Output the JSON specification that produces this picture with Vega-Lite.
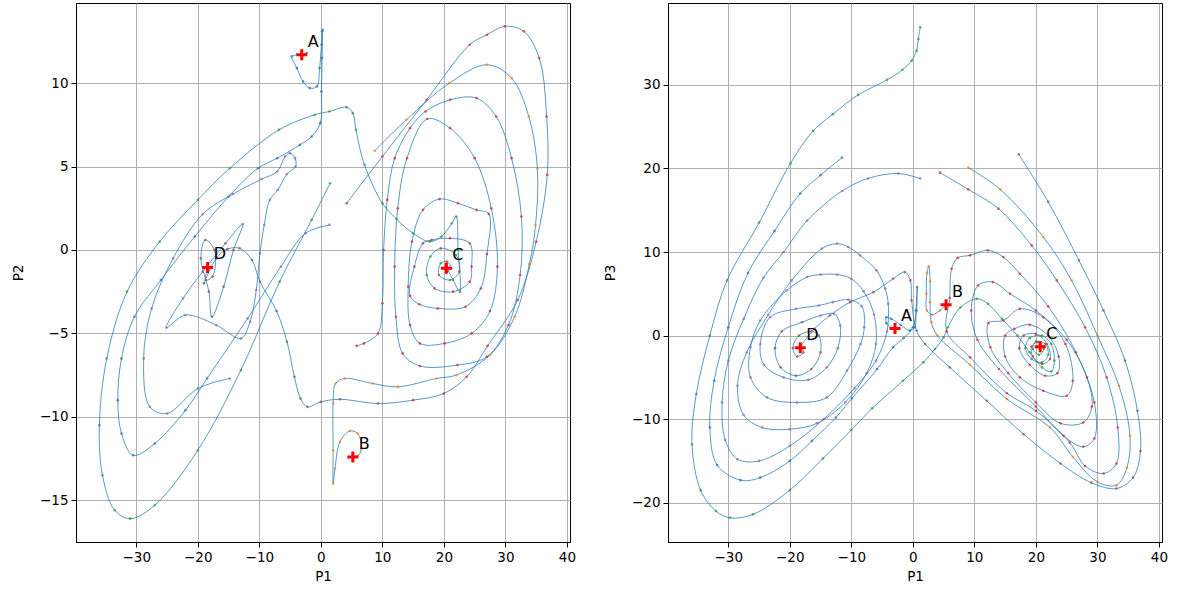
{
 "$schema": "https://vega.github.io/schema/vega-lite/v6.json",
 "padding": {"left": 11, "top": 2, "right": 5, "bottom": 5},
 "config": {
  "font": "DejaVu Sans",
  "view": {"stroke": "black", "strokeWidth": 1},
  "axis": {"grid": true, "gridColor": "#b0b0b0", "gridWidth": 1, "gridOpacity": 1, "domainColor": "black", "tickColor": "black", "tickSize": 5, "labelFontSize": 13.5, "labelColor": "black", "labelPadding": 3, "titleFontSize": 13.5, "titleFontWeight": "normal", "titleColor": "black", "labelFlush": false, "labelOverlap": false},
  "axisX": {"titlePadding": 6},
  "concat": {"spacing": 26}
 },
 "datasets": {
  "L": [
   {"t":"a","c":"b","x":-2.3,"y":11.8},{"t":"a","c":"b","x":-3.1,"y":11.7},{"t":"a","c":"b","x":-4.7,"y":11.6},{"t":"a","c":"b","x":-3.9,"y":10.9},{"t":"a","c":"b","x":-2.9,"y":10.1},{"t":"a","c":"b","x":-1.8,"y":9.7},{"t":"a","c":"b","x":-0.65,"y":9.8},{"t":"a","c":"b","x":-0.2,"y":10.9},{"t":"a","c":"b","x":0.1,"y":12.3},{"t":"a","c":"b","x":0.2,"y":13.1},
   {"t":"v","c":"b","x":0.3,"y":13.2},{"t":"v","c":"b","x":0.2,"y":11.5},{"t":"v","c":"b","x":0.1,"y":9.5},{"t":"v","c":"b","x":-0.1,"y":7.6},{"t":"v","c":"b","x":-1.5,"y":6.8},{"t":"v","c":"b","x":-3.4,"y":6.3},{"t":"v","c":"b","x":-7.1,"y":5.5},{"t":"v","c":"b","x":-10.2,"y":4.9},{"t":"v","c":"b","x":-15,"y":3.2},{"t":"v","c":"b","x":-20.5,"y":0.8},{"t":"v","c":"b","x":-26,"y":-1.8},{"t":"v","c":"b","x":-30.3,"y":-4},{"t":"v","c":"b","x":-32.4,"y":-6.5},{"t":"v","c":"b","x":-33,"y":-9},{"t":"v","c":"b","x":-32.4,"y":-11},{"t":"v","c":"b","x":-30.5,"y":-12.3},{"t":"v","c":"b","x":-27,"y":-11.6},{"t":"v","c":"b","x":-22,"y":-9.6},{"t":"v","c":"b","x":-18.5,"y":-7.7},{"t":"v","c":"p","x":-11.9,"y":-4.1},{"t":"v","c":"p","x":-6.5,"y":-1},{"t":"v","c":"p","x":-2.5,"y":1},{"t":"v","c":"p","x":1.4,"y":1.5},
   {"t":"g","c":"g","x":1.5,"y":4.0},{"t":"g","c":"g","x":-1.5,"y":1.8},{"t":"g","c":"g","x":-6.7,"y":-1.9},{"t":"g","c":"g","x":-13,"y":-7.2},{"t":"g","c":"g","x":-20,"y":-12},{"t":"g","c":"g","x":-27,"y":-15.3},{"t":"g","c":"g","x":-31,"y":-16.1},{"t":"g","c":"g","x":-33.5,"y":-15.6},{"t":"g","c":"g","x":-35.5,"y":-13.5},{"t":"g","c":"g","x":-36,"y":-10.5},{"t":"g","c":"g","x":-34.8,"y":-6.5},{"t":"g","c":"g","x":-31.5,"y":-2.5},{"t":"g","c":"g","x":-26.2,"y":0.5},{"t":"g","c":"g","x":-20,"y":3},{"t":"g","c":"g","x":-14.8,"y":4.9},{"t":"g","c":"g","x":-6.8,"y":7.2},{"t":"g","c":"g","x":-1,"y":8.1},{"t":"g","c":"g","x":1.4,"y":8.3},{"t":"g","c":"g","x":4.2,"y":8.55},{"t":"g","c":"g","x":5.2,"y":8.2},{"t":"g","c":"g","x":5.7,"y":7.2},{"t":"g","c":"g","x":7.1,"y":5.1},{"t":"g","c":"g","x":10,"y":2.8},{"t":"g","c":"g","x":12.3,"y":1.85},{"t":"g","c":"g","x":15,"y":1.0},{"t":"g","c":"g","x":17.7,"y":0.5},{"t":"g","c":"g","x":19.6,"y":0.8},{"t":"g","c":"g","x":21.3,"y":1.6},{"t":"g","c":"g","x":22,"y":2.0},{"t":"g","c":"g","x":22.3,"y":0},{"t":"g","c":"g","x":22.6,"y":-2.5},{"t":"g","c":"g","x":21.5,"y":-1.8},{"t":"g","c":"g","x":20.5,"y":-1.1},
   {"t":"p","c":"p","x":-14.8,"y":-7.7},{"t":"p","c":"p","x":-20,"y":-8.3},{"t":"p","c":"p","x":-25,"y":-9.8},{"t":"p","c":"p","x":-27.8,"y":-9.4},{"t":"p","c":"p","x":-28.8,"y":-6.5},{"t":"p","c":"p","x":-27.5,"y":-3.5},{"t":"p","c":"p","x":-24,"y":-0.5},{"t":"p","c":"p","x":-19.2,"y":2.15},{"t":"p","c":"p","x":-14.3,"y":3.35},{"t":"p","c":"p","x":-9.6,"y":4.25},{"t":"p","c":"p","x":-7.1,"y":4.7},{"t":"p","c":"p","x":-5.8,"y":5.6},{"t":"p","c":"p","x":-5,"y":5.8},{"t":"p","c":"p","x":-4.2,"y":5.5},{"t":"p","c":"p","x":-4.1,"y":5},{"t":"p","c":"p","x":-5.5,"y":4.55},{"t":"p","c":"p","x":-7,"y":3.6},{"t":"p","c":"p","x":-8.3,"y":3.0},{"t":"p","c":"p","x":-9.2,"y":1.5},{"t":"p","c":"p","x":-9.9,"y":-0.2},{"t":"p","c":"p","x":-10.5,"y":-2.4},{"t":"p","c":"p","x":-11.5,"y":-4.3},{"t":"p","c":"p","x":-13,"y":-5.3},{"t":"p","c":"p","x":-17,"y":-4.5},{"t":"p","c":"p","x":-22,"y":-3.9},{"t":"p","c":"p","x":-25.1,"y":-4.66},{"t":"p","c":"p","x":-22.4,"y":-2.9},{"t":"p","c":"n","x":-19.2,"y":-1.3},{"t":"p","c":"n","x":-15.5,"y":0.4},{"t":"p","c":"p","x":-12.7,"y":1.55},{"t":"p","c":"n","x":-14.2,"y":0},{"t":"p","c":"n","x":-15.8,"y":-2.2},{"t":"p","c":"n","x":-17.7,"y":-4.0},{"t":"p","c":"n","x":-18.2,"y":-2.5},{"t":"p","c":"n","x":-19.5,"y":-0.5},{"t":"p","c":"n","x":-18.8,"y":0.6},{"t":"p","c":"n","x":-17.3,"y":0},{"t":"p","c":"n","x":-17.6,"y":-1.6},{"t":"p","c":"n","x":-18.7,"y":-1.8},{"t":"p","c":"n","x":-18.4,"y":-1.0},
   {"t":"h","c":"n","x":-19,"y":-2},{"t":"h","c":"n","x":-17,"y":-0.5},{"t":"h","c":"n","x":-15.2,"y":0.05},{"t":"h","c":"n","x":-13.2,"y":0.1},{"t":"h","c":"n","x":-11.2,"y":-0.6},{"t":"h","c":"n","x":-9.9,"y":-1.9},{"t":"h","c":"n","x":-7.2,"y":-3.66},{"t":"h","c":"n","x":-5.5,"y":-5.5},{"t":"h","c":"n","x":-4.3,"y":-7.6},{"t":"h","c":"n","x":-3.3,"y":-8.9},{"t":"h","c":"n","x":-2.2,"y":-9.4},{"t":"h","c":"n","x":0,"y":-9.1},{"t":"h","c":"n","x":3.1,"y":-8.95},{"t":"h","c":"n","x":9.3,"y":-9.2},{"t":"h","c":"r","x":15,"y":-9.0},{"t":"h","c":"r","x":20,"y":-8.6},{"t":"h","c":"r","x":23.7,"y":-7.6},{"t":"h","c":"r","x":27.1,"y":-5.75},{"t":"h","c":"r","x":32,"y":-3},{"t":"h","c":"r","x":35,"y":0.5},{"t":"h","c":"r","x":36.8,"y":4.5},{"t":"h","c":"r","x":36.7,"y":8},{"t":"h","c":"r","x":35.5,"y":11.5},{"t":"h","c":"r","x":33,"y":13.1},{"t":"h","c":"r","x":29.9,"y":13.4},{"t":"h","c":"r","x":27,"y":12.9},{"t":"h","c":"r","x":24.2,"y":12.3},{"t":"h","c":"r","x":17.2,"y":9.0},{"t":"h","c":"r","x":10,"y":5.6},{"t":"h","c":"r","x":4.2,"y":2.8},
   {"t":"o","c":"o","x":8.75,"y":5.94},{"t":"o","c":"o","x":13.9,"y":7.8},{"t":"o","c":"o","x":20.9,"y":10.0},{"t":"o","c":"o","x":27,"y":11.1},{"t":"o","c":"o","x":31,"y":10.3},{"t":"o","c":"o","x":33.8,"y":8},{"t":"o","c":"o","x":35.2,"y":4.9},{"t":"o","c":"o","x":34.9,"y":1.5},{"t":"o","c":"o","x":33.9,"y":-0.85},{"t":"o","c":"o","x":31.5,"y":-4},{"t":"o","c":"o","x":27.5,"y":-6.3},{"t":"o","c":"o","x":22,"y":-7.5},{"t":"o","c":"o","x":18.8,"y":-7.7},{"t":"o","c":"o","x":12.5,"y":-8.2},{"t":"o","c":"o","x":8.4,"y":-8.0},{"t":"o","c":"o","x":3.9,"y":-7.7},{"t":"o","c":"o","x":2.4,"y":-8.0},{"t":"o","c":"o","x":2.0,"y":-9.2},{"t":"o","c":"o","x":2.0,"y":-12},{"t":"o","c":"o","x":2.0,"y":-14.0},{"t":"o","c":"o","x":2.3,"y":-13.1},{"t":"o","c":"o","x":3.1,"y":-11.5},{"t":"o","c":"o","x":4.7,"y":-10.85},{"t":"o","c":"o","x":6,"y":-11.0},{"t":"o","c":"o","x":6.6,"y":-11.9},{"t":"o","c":"o","x":6,"y":-12.35},{"t":"o","c":"o","x":5.2,"y":-12.35},
   {"t":"r","c":"r","x":5.8,"y":-5.75},{"t":"r","c":"r","x":7,"y":-5.6},{"t":"r","c":"r","x":9.3,"y":-5.0},{"t":"r","c":"r","x":10,"y":-3.2},{"t":"r","c":"r","x":10.2,"y":0},{"t":"r","c":"r","x":10.8,"y":3},{"t":"r","c":"r","x":12,"y":5.5},{"t":"r","c":"r","x":14.5,"y":7.3},{"t":"r","c":"r","x":17,"y":8.3},{"t":"r","c":"r","x":21,"y":9},{"t":"r","c":"r","x":25.3,"y":9.1},{"t":"r","c":"r","x":28.5,"y":8},{"t":"r","c":"r","x":31,"y":5.5},{"t":"r","c":"r","x":32.6,"y":2},{"t":"r","c":"r","x":32.4,"y":-1.5},{"t":"r","c":"r","x":30.5,"y":-4.5},{"t":"r","c":"r","x":27,"y":-6.4},{"t":"r","c":"r","x":22.2,"y":-6.9},{"t":"r","c":"r","x":16.1,"y":-6.95},{"t":"r","c":"r","x":13.3,"y":-6.2},{"t":"r","c":"r","x":12.2,"y":-4},{"t":"r","c":"r","x":12,"y":-1},{"t":"r","c":"r","x":12.5,"y":2.5},{"t":"r","c":"r","x":14,"y":5.5},{"t":"r","c":"r","x":17.3,"y":7.85},{"t":"r","c":"r","x":21,"y":7.3},{"t":"r","c":"r","x":25,"y":5.5},{"t":"r","c":"r","x":27.7,"y":2.5},{"t":"r","c":"r","x":28.7,"y":-1},{"t":"r","c":"r","x":27.5,"y":-3.66},{"t":"r","c":"r","x":24.5,"y":-5},{"t":"r","c":"r","x":20.1,"y":-5.6},{"t":"r","c":"r","x":16.1,"y":-5.6},{"t":"r","c":"r","x":14.5,"y":-4.5},{"t":"r","c":"r","x":14.2,"y":-2.2},{"t":"r","c":"r","x":14.8,"y":0.5},{"t":"r","c":"r","x":16.6,"y":2.4},{"t":"r","c":"r","x":19.3,"y":3.05},{"t":"r","c":"r","x":22.3,"y":2.8},{"t":"r","c":"r","x":25.3,"y":2.4},{"t":"r","c":"r","x":27.3,"y":2.16},{"t":"r","c":"r","x":27,"y":-0.24},{"t":"r","c":"r","x":26,"y":-2.3},{"t":"r","c":"r","x":23.5,"y":-3.4},{"t":"r","c":"r","x":19,"y":-3.5},{"t":"r","c":"r","x":16,"y":-3.25},{"t":"r","c":"r","x":14.5,"y":-2.75},{"t":"r","c":"r","x":15.2,"y":-1},{"t":"r","c":"r","x":16.6,"y":0.4},{"t":"r","c":"r","x":18,"y":0.6},{"t":"r","c":"r","x":21,"y":0.7},{"t":"r","c":"r","x":24.2,"y":0.4},{"t":"r","c":"r","x":24.5,"y":-1},{"t":"r","c":"r","x":24.2,"y":-1.9},{"t":"r","c":"r","x":21.5,"y":-2.5},{"t":"r","c":"r","x":18.5,"y":-2.3},{"t":"r","c":"g","x":17.2,"y":-1.5},{"t":"r","c":"g","x":17.8,"y":-0.4},{"t":"r","c":"r","x":19.5,"y":0.1},{"t":"r","c":"g","x":22,"y":-0.3},{"t":"r","c":"r","x":22.5,"y":-1.3},{"t":"r","c":"g","x":21,"y":-1.8},{"t":"r","c":"r","x":19.2,"y":-1.5},{"t":"r","c":"g","x":19.5,"y":-0.8},{"t":"r","c":"r","x":20.5,"y":-0.7},{"t":"r","c":"g","x":21.2,"y":-1.1},{"t":"r","c":"r","x":20.5,"y":-1.3}
  ],
  "R": [
   {"t":"a","c":"b","x":-11.5,"y":21.3},{"t":"a","c":"b","x":-15,"y":19.2},{"t":"a","c":"b","x":-18.3,"y":17},{"t":"a","c":"b","x":-22.5,"y":12.5},{"t":"a","c":"b","x":-26.8,"y":7.5},{"t":"a","c":"b","x":-30,"y":1},{"t":"a","c":"b","x":-32.3,"y":-5.4},{"t":"a","c":"b","x":-33,"y":-11},{"t":"a","c":"b","x":-31.8,"y":-15.5},{"t":"a","c":"b","x":-28,"y":-17.3},{"t":"a","c":"b","x":-24.8,"y":-17},{"t":"a","c":"b","x":-20,"y":-15},{"t":"a","c":"b","x":-16.4,"y":-12.6},{"t":"a","c":"b","x":-12.5,"y":-9.8},{"t":"a","c":"b","x":-9.9,"y":-7.5},{"t":"a","c":"b","x":-5.8,"y":-4},{"t":"a","c":"b","x":-3.2,"y":-1.4},{"t":"a","c":"b","x":-1.5,"y":-0.3},{"t":"a","c":"b","x":0,"y":1},{"t":"a","c":"b","x":0.6,"y":3},{"t":"a","c":"b","x":0.7,"y":5.8},{"t":"a","c":"b","x":0.5,"y":3},{"t":"a","c":"b","x":0.3,"y":1.0},{"t":"a","c":"b","x":-0.5,"y":0.6},{"t":"a","c":"b","x":-2,"y":1.3},{"t":"a","c":"b","x":-3.5,"y":2.0},{"t":"a","c":"b","x":-4.3,"y":2.2},{"t":"a","c":"b","x":-4.3,"y":1.5},{"t":"a","c":"b","x":-3.5,"y":0.9},{"t":"a","c":"b","x":-2.9,"y":0.84},
   {"t":"g","c":"g","x":1.2,"y":36.9},{"t":"g","c":"g","x":0.9,"y":35.5},{"t":"g","c":"g","x":0.6,"y":34.1},{"t":"g","c":"g","x":-0.2,"y":32.9},{"t":"g","c":"g","x":-1.7,"y":31.8},{"t":"g","c":"g","x":-4.2,"y":30.6},{"t":"g","c":"g","x":-8.9,"y":28.8},{"t":"g","c":"g","x":-13,"y":26.5},{"t":"g","c":"g","x":-16.2,"y":24.5},{"t":"g","c":"g","x":-19.9,"y":20.6},{"t":"g","c":"g","x":-25,"y":13.5},{"t":"g","c":"g","x":-30.2,"y":6.6},{"t":"g","c":"g","x":-33,"y":0},{"t":"g","c":"g","x":-35.2,"y":-7},{"t":"g","c":"g","x":-35.9,"y":-13},{"t":"g","c":"g","x":-34.5,"y":-18.5},{"t":"g","c":"g","x":-32,"y":-21},{"t":"g","c":"g","x":-29.7,"y":-21.8},{"t":"g","c":"g","x":-26,"y":-21.4},{"t":"g","c":"g","x":-20,"y":-18.5},{"t":"g","c":"g","x":-14.6,"y":-14.7},{"t":"g","c":"g","x":-10,"y":-11.3},{"t":"g","c":"g","x":-6.6,"y":-8.7},{"t":"g","c":"g","x":-1.6,"y":-5.4},{"t":"g","c":"g","x":1.7,"y":-3.2},{"t":"g","c":"g","x":3.6,"y":-1.6},{"t":"g","c":"g","x":5,"y":-0.2},{"t":"g","c":"g","x":5.7,"y":1.0},{"t":"g","c":"g","x":7.7,"y":3.35},{"t":"g","c":"g","x":10.4,"y":4.4},{"t":"g","c":"g","x":12.2,"y":3.8},{"t":"g","c":"g","x":14.5,"y":2.0},{"t":"g","c":"g","x":17,"y":0},{"t":"g","c":"g","x":19,"y":-2},{"t":"g","c":"g","x":21,"y":-3.8},{"t":"g","c":"g","x":22.5,"y":-4.3},{"t":"g","c":"g","x":23,"y":-3},{"t":"g","c":"g","x":22.5,"y":-1},{"t":"g","c":"g","x":21,"y":0},{"t":"g","c":"g","x":19,"y":-0.3},{"t":"g","c":"g","x":18.3,"y":-1.5},{"t":"g","c":"g","x":19.3,"y":-2.8},{"t":"g","c":"g","x":21,"y":-3.2},{"t":"g","c":"g","x":22,"y":-2.3},{"t":"g","c":"g","x":21.5,"y":-1},{"t":"g","c":"g","x":20,"y":-0.7},{"t":"g","c":"g","x":19.5,"y":-1.6},{"t":"g","c":"g","x":20.5,"y":-2.3},{"t":"g","c":"g","x":21.3,"y":-1.6},{"t":"g","c":"g","x":20.7,"y":-1.3},
   {"t":"p","c":"p","x":1.2,"y":18.8},{"t":"p","c":"p","x":-2.4,"y":19.4},{"t":"p","c":"p","x":-7.3,"y":18.8},{"t":"p","c":"p","x":-11.5,"y":17.3},{"t":"p","c":"p","x":-17.2,"y":13.75},{"t":"p","c":"p","x":-21,"y":10},{"t":"p","c":"p","x":-24.3,"y":6.9},{"t":"p","c":"p","x":-27.5,"y":2},{"t":"p","c":"p","x":-30,"y":-3},{"t":"p","c":"p","x":-31,"y":-8},{"t":"p","c":"p","x":-30.5,"y":-12.5},{"t":"p","c":"p","x":-28.5,"y":-14.8},{"t":"p","c":"p","x":-25,"y":-15},{"t":"p","c":"p","x":-20,"y":-13.2},{"t":"p","c":"p","x":-14.5,"y":-10},{"t":"p","c":"p","x":-9.5,"y":-6.3},{"t":"p","c":"p","x":-6,"y":-3},{"t":"p","c":"p","x":-4.2,"y":0.5},{"t":"p","c":"p","x":-4.0,"y":3.8},{"t":"p","c":"p","x":-4.5,"y":5.6},{"t":"p","c":"p","x":-5.9,"y":7.8},{"t":"p","c":"p","x":-8.6,"y":9.6},{"t":"p","c":"p","x":-10.5,"y":10.6},{"t":"p","c":"p","x":-12.3,"y":11},{"t":"p","c":"p","x":-14.8,"y":10.4},{"t":"p","c":"p","x":-19.7,"y":6.6},{"t":"p","c":"p","x":-23.5,"y":2.5},{"t":"p","c":"p","x":-27,"y":-2},{"t":"p","c":"p","x":-28.5,"y":-6},{"t":"p","c":"p","x":-27.5,"y":-9.5},{"t":"p","c":"p","x":-24.5,"y":-11},{"t":"p","c":"p","x":-20,"y":-11.2},{"t":"p","c":"p","x":-15.6,"y":-10.5},{"t":"p","c":"p","x":-11,"y":-8},{"t":"p","c":"p","x":-7.5,"y":-4.5},{"t":"p","c":"p","x":-6,"y":-1},{"t":"p","c":"p","x":-6.3,"y":2.5},{"t":"p","c":"p","x":-8,"y":5.3},{"t":"p","c":"p","x":-10,"y":6.8},{"t":"p","c":"p","x":-12.3,"y":7.3},{"t":"p","c":"p","x":-15,"y":7.3},{"t":"p","c":"p","x":-17.2,"y":7},{"t":"p","c":"p","x":-20.5,"y":5.4},{"t":"p","c":"p","x":-24.8,"y":1.8},{"t":"p","c":"p","x":-26.4,"y":-1.4},{"t":"p","c":"p","x":-26.4,"y":-5},{"t":"p","c":"p","x":-23.7,"y":-7.4},{"t":"p","c":"p","x":-18.8,"y":-8},{"t":"p","c":"p","x":-14,"y":-7.4},{"t":"p","c":"p","x":-10.7,"y":-4.2},{"t":"p","c":"p","x":-8.5,"y":-1},{"t":"p","c":"p","x":-7.9,"y":1},{"t":"p","c":"p","x":-8.3,"y":3.5},{"t":"p","c":"p","x":-10.5,"y":4.3},{"t":"p","c":"p","x":-13,"y":4},{"t":"p","c":"p","x":-15.3,"y":3.6},{"t":"p","c":"p","x":-19,"y":3.2},{"t":"p","c":"p","x":-23.2,"y":2.2},{"t":"p","c":"p","x":-24.8,"y":-1},{"t":"p","c":"p","x":-24.2,"y":-3.5},{"t":"p","c":"p","x":-21,"y":-5},{"t":"p","c":"p","x":-17,"y":-5.3},{"t":"p","c":"p","x":-14,"y":-3.8},{"t":"p","c":"p","x":-12.2,"y":-1.5},{"t":"p","c":"p","x":-11.8,"y":1.2},{"t":"p","c":"p","x":-12.8,"y":2.6},{"t":"p","c":"p","x":-15,"y":2.4},{"t":"p","c":"n","x":-18,"y":1.6},{"t":"p","c":"n","x":-21.3,"y":0.5},{"t":"p","c":"n","x":-22.4,"y":-1.5},{"t":"p","c":"n","x":-21.5,"y":-3.8},{"t":"p","c":"n","x":-19,"y":-4.8},{"t":"p","c":"n","x":-16.5,"y":-4},{"t":"p","c":"n","x":-15,"y":-2},{"t":"p","c":"n","x":-15.3,"y":0},{"t":"p","c":"n","x":-16.5,"y":0.5},{"t":"p","c":"n","x":-18.5,"y":0},{"t":"p","c":"n","x":-19.5,"y":-1.5},{"t":"p","c":"n","x":-18.8,"y":-2.5},{"t":"p","c":"n","x":-17.8,"y":-2},{"t":"p","c":"n","x":-18.2,"y":-1.4},
   {"t":"r","c":"r","x":4.4,"y":19.5},{"t":"r","c":"r","x":9,"y":17.5},{"t":"r","c":"r","x":13.9,"y":15.2},{"t":"r","c":"r","x":19.3,"y":10.8},{"t":"r","c":"r","x":23.4,"y":6.6},{"t":"r","c":"r","x":28,"y":1},{"t":"r","c":"r","x":31.5,"y":-5},{"t":"r","c":"r","x":33.3,"y":-11},{"t":"r","c":"r","x":33.1,"y":-15.3},{"t":"r","c":"r","x":31,"y":-16.5},{"t":"r","c":"r","x":28,"y":-15.6},{"t":"r","c":"r","x":25.5,"y":-12.8},{"t":"r","c":"r","x":20,"y":-9},{"t":"r","c":"r","x":15.3,"y":-6.9},{"t":"r","c":"r","x":9.3,"y":-2.6},{"t":"r","c":"r","x":5.5,"y":0.5},{"t":"r","c":"r","x":6,"y":4.5},{"t":"r","c":"r","x":6.3,"y":8},{"t":"r","c":"r","x":7.3,"y":9.3},{"t":"r","c":"r","x":9.3,"y":9.6},{"t":"r","c":"r","x":12.2,"y":10.2},{"t":"r","c":"r","x":14.7,"y":9.4},{"t":"r","c":"r","x":17.4,"y":7.4},{"t":"r","c":"r","x":22,"y":3.5},{"t":"r","c":"r","x":26.5,"y":-2},{"t":"r","c":"r","x":29.5,"y":-8},{"t":"r","c":"r","x":29.5,"y":-12.3},{"t":"r","c":"r","x":27.7,"y":-13.3},{"t":"r","c":"r","x":24.5,"y":-12},{"t":"r","c":"r","x":20,"y":-8.5},{"t":"r","c":"r","x":14,"y":-4},{"t":"r","c":"r","x":10.5,"y":-0.5},{"t":"r","c":"r","x":9.5,"y":3},{"t":"r","c":"r","x":10.6,"y":6},{"t":"r","c":"r","x":13,"y":6.4},{"t":"r","c":"r","x":15.8,"y":5},{"t":"r","c":"r","x":20,"y":3},{"t":"r","c":"r","x":25,"y":-0.5},{"t":"r","c":"r","x":28.3,"y":-5},{"t":"r","c":"r","x":29.1,"y":-8.5},{"t":"r","c":"r","x":27.7,"y":-10.4},{"t":"r","c":"r","x":24,"y":-10.5},{"t":"r","c":"r","x":20,"y":-8},{"t":"r","c":"r","x":15.5,"y":-4.5},{"t":"r","c":"r","x":12.6,"y":-1.4},{"t":"r","c":"r","x":12.3,"y":1.5},{"t":"r","c":"r","x":14.7,"y":1.8},{"t":"r","c":"r","x":17.4,"y":3.2},{"t":"r","c":"r","x":21.2,"y":2.2},{"t":"r","c":"r","x":24.8,"y":-1},{"t":"r","c":"r","x":26,"y":-5.4},{"t":"r","c":"r","x":25,"y":-7.2},{"t":"r","c":"r","x":21.2,"y":-6.6},{"t":"r","c":"r","x":17.4,"y":-5},{"t":"r","c":"r","x":15,"y":-2.5},{"t":"r","c":"r","x":15,"y":0},{"t":"r","c":"r","x":16.5,"y":0.8},{"t":"r","c":"r","x":19,"y":1.3},{"t":"r","c":"r","x":22,"y":0},{"t":"r","c":"r","x":23.7,"y":-2.5},{"t":"r","c":"r","x":23.5,"y":-4.5},{"t":"r","c":"r","x":21.5,"y":-4.8},{"t":"r","c":"r","x":19,"y":-3.5},{"t":"r","c":"r","x":17.3,"y":-1.5},{"t":"r","c":"r","x":18,"y":0},{"t":"r","c":"r","x":20,"y":0.2},{"t":"r","c":"r","x":21.8,"y":-1},{"t":"r","c":"r","x":22.3,"y":-2.8},{"t":"r","c":"r","x":21,"y":-3.4},{"t":"r","c":"r","x":19.5,"y":-2.5},{"t":"r","c":"r","x":19.3,"y":-1.3},{"t":"r","c":"r","x":20.3,"y":-0.8},{"t":"r","c":"r","x":21.2,"y":-1.3},{"t":"r","c":"r","x":20.7,"y":-1.3},
   {"t":"o","c":"o","x":9,"y":20.1},{"t":"o","c":"o","x":14.2,"y":17.5},{"t":"o","c":"o","x":21.2,"y":11.8},{"t":"o","c":"o","x":25.8,"y":6.6},{"t":"o","c":"o","x":30,"y":0},{"t":"o","c":"o","x":33.5,"y":-6},{"t":"o","c":"o","x":35.3,"y":-12},{"t":"o","c":"o","x":34.8,"y":-15.8},{"t":"o","c":"o","x":33.1,"y":-17.9},{"t":"o","c":"o","x":30,"y":-17.5},{"t":"o","c":"o","x":26,"y":-14.5},{"t":"o","c":"o","x":22.3,"y":-11},{"t":"o","c":"o","x":15.3,"y":-7.6},{"t":"o","c":"o","x":9.3,"y":-3.5},{"t":"o","c":"o","x":4,"y":0},{"t":"o","c":"o","x":3,"y":1.6},{"t":"o","c":"o","x":2.8,"y":4},{"t":"o","c":"o","x":2.8,"y":6.5},{"t":"o","c":"o","x":2.6,"y":8.3},{"t":"o","c":"o","x":2.3,"y":7.5},{"t":"o","c":"o","x":2.2,"y":5},{"t":"o","c":"o","x":2.3,"y":3.0},{"t":"o","c":"o","x":3.1,"y":2.5},{"t":"o","c":"o","x":4.4,"y":3.0},{"t":"o","c":"o","x":5.4,"y":3.7},
   {"t":"n","c":"n","x":-18.2,"y":-1.2},{"t":"n","c":"n","x":-16,"y":0.8},{"t":"n","c":"n","x":-13.5,"y":2.4},{"t":"n","c":"n","x":-10.2,"y":4.0},{"t":"n","c":"n","x":-6.4,"y":5.2},{"t":"n","c":"n","x":-3.2,"y":6.8},{"t":"n","c":"n","x":-1.3,"y":7.6},{"t":"n","c":"n","x":-0.4,"y":6.6},{"t":"n","c":"n","x":-0.2,"y":4.2},{"t":"n","c":"n","x":0.6,"y":0.6},{"t":"n","c":"n","x":2,"y":-1},{"t":"n","c":"n","x":6,"y":-3.8},{"t":"n","c":"n","x":12,"y":-7.8},{"t":"n","c":"n","x":18,"y":-11.8},{"t":"n","c":"n","x":24,"y":-15.3},{"t":"n","c":"n","x":29,"y":-17.6},{"t":"n","c":"n","x":33.1,"y":-18.3},{"t":"n","c":"n","x":35.8,"y":-17},{"t":"n","c":"n","x":37,"y":-13.8},{"t":"n","c":"n","x":36.5,"y":-9},{"t":"n","c":"n","x":34.5,"y":-3},{"t":"n","c":"n","x":31,"y":3},{"t":"n","c":"n","x":27,"y":9},{"t":"n","c":"n","x":22,"y":16},{"t":"n","c":"n","x":17.2,"y":21.7}
  ],
  "ML": [
   {"n":"A","x":-3.1,"y":11.7},{"n":"B","x":5.2,"y":-12.4},{"n":"C","x":20.4,"y":-1.1},{"n":"D","x":-18.4,"y":-1.05}
  ],
  "MR": [
   {"n":"A","x":-2.9,"y":0.84},{"n":"B","x":5.4,"y":3.7},{"n":"C","x":20.7,"y":-1.35},{"n":"D","x":-18.3,"y":-1.45}
  ]
 },
 "hconcat": [
  {
   "width": 494, "height": 539,
   "encoding": {
    "x": {"field": "x", "type": "quantitative", "title": "P1", "scale": {"domain": [-39.8, 40.5], "nice": false, "zero": false}, "axis": {"values": [-30,-20,-10,0,10,20,30,40]}},
    "y": {"field": "y", "type": "quantitative", "title": "P2", "scale": {"domain": [-17.5, 14.8], "nice": false, "zero": false}, "axis": {"values": [-15,-10,-5,0,5,10], "titlePadding": 14}}
   },
   "layer": [
    {"data": {"name": "L"}, "mark": {"type": "line", "interpolate": "catmull-rom", "color": "#1f77b4", "opacity": 0.75, "strokeWidth": 1, "clip": true}, "encoding": {"detail": {"field": "t"}, "order": {"value": null}}},
    {"data": {"name": "L"}, "mark": {"type": "point", "filled": true, "size": 7, "opacity": 0.75}, "encoding": {"color": {"field": "c", "type": "nominal", "legend": null, "scale": {"domain": ["b","o","g","r","p","n"], "range": ["#1f77b4","#ff7f0e","#2ca02c","#d62728","#9467bd","#8c564b"]}}}},
    {"data": {"name": "ML"}, "mark": {"type": "point", "shape": "M-1,0L1,0M0,-1L0,1", "size": 121, "filled": false, "color": "#ff0000", "strokeWidth": 3, "opacity": 1}},
    {"data": {"name": "ML"}, "mark": {"type": "text", "align": "left", "baseline": "alphabetic", "dx": 6, "dy": -8, "fontSize": 16, "color": "black"}, "encoding": {"text": {"field": "n"}}}
   ]
  },
  {
   "width": 494, "height": 539,
   "encoding": {
    "x": {"field": "x", "type": "quantitative", "title": "P1", "scale": {"domain": [-39.8, 40.5], "nice": false, "zero": false}, "axis": {"values": [-30,-20,-10,0,10,20,30,40]}},
    "y": {"field": "y", "type": "quantitative", "title": "P3", "scale": {"domain": [-24.7, 39.8], "nice": false, "zero": false}, "axis": {"values": [-20,-10,0,10,20,30], "titlePadding": 14}}
   },
   "layer": [
    {"data": {"name": "R"}, "mark": {"type": "line", "interpolate": "catmull-rom", "color": "#1f77b4", "opacity": 0.75, "strokeWidth": 1, "clip": true}, "encoding": {"detail": {"field": "t"}, "order": {"value": null}}},
    {"data": {"name": "R"}, "mark": {"type": "point", "filled": true, "size": 7, "opacity": 0.75}, "encoding": {"color": {"field": "c", "type": "nominal", "legend": null, "scale": {"domain": ["b","o","g","r","p","n"], "range": ["#1f77b4","#ff7f0e","#2ca02c","#d62728","#9467bd","#8c564b"]}}}},
    {"data": {"name": "MR"}, "mark": {"type": "point", "shape": "M-1,0L1,0M0,-1L0,1", "size": 121, "filled": false, "color": "#ff0000", "strokeWidth": 3, "opacity": 1}},
    {"data": {"name": "MR"}, "mark": {"type": "text", "align": "left", "baseline": "alphabetic", "dx": 6, "dy": -8, "fontSize": 16, "color": "black"}, "encoding": {"text": {"field": "n"}}}
   ]
  }
 ]
}
